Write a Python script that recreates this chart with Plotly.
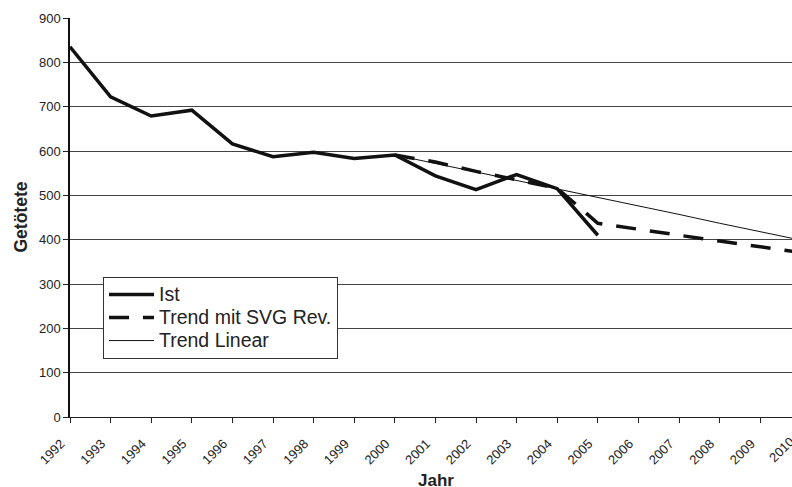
import plotly.graph_objects as go

years_ist = [1992, 1993, 1994, 1995, 1996, 1997, 1998, 1999, 2000, 2001, 2002, 2003, 2004, 2005]
ist = [835, 722, 679, 692, 616, 587, 597, 583, 591, 544, 513, 547, 515, 410]

years_trend = [2000, 2001, 2002, 2003, 2004, 2005, 2006, 2007, 2008, 2009, 2010]
trend_svg = [591, 575, 554, 535, 516, 437, 423, 410, 397, 384, 371]
trend_lin = [591, 572, 553, 534, 514, 495, 476, 457, 437, 418, 399]

series_names = ["Ist", "Trend mit SVG Rev.", "Trend Linear"]

tick_years = list(range(1992, 2011))
tick_labels = [str(y) for y in tick_years]

FONT = "Liberation Sans, Arial, sans-serif"
TXT = "#222222"
LINE = "#111111"


def legend_label(s):
    return "<span style='font-size:19.5px'>" + s + "</span>"


fig = go.Figure()
fig.add_trace(go.Scatter(x=years_ist, y=ist, mode="lines", name=legend_label(series_names[0]),
                         line=dict(color=LINE, width=3.5)))
fig.add_trace(go.Scatter(x=years_trend, y=trend_svg, mode="lines", name=legend_label(series_names[1]),
                         line=dict(color=LINE, width=3.5, dash="20px,14px")))
fig.add_trace(go.Scatter(x=years_trend, y=trend_lin, mode="lines", name=legend_label(series_names[2]),
                         line=dict(color=LINE, width=1)))

W, H = 792, 487
L, R, T, B = 70, 0, 18, 70
x_end = 1992 + (W - L) / 40.6

fig.update_layout(
    width=W, height=H,
    margin=dict(l=L, r=R, t=T, b=B, autoexpand=False),
    paper_bgcolor="white", plot_bgcolor="white",
    font=dict(family=FONT, color=TXT),
    showlegend=True,
    legend=dict(x=(103 - L) / (W - L), y=(417 - 277) / 399, xanchor="left", yanchor="top",
                bgcolor="white", bordercolor="#333333", borderwidth=1,
                font=dict(size=15.4, family=FONT, color=TXT),
                itemwidth=45, tracegroupgap=0),
    xaxis=dict(range=[1992, x_end], tickmode="array", tickvals=tick_years, ticktext=tick_labels,
               tickangle=-45, tickfont=dict(size=13, family=FONT, color=TXT), automargin=False,
               ticklabelstandoff=8, ticklabelshift=-9,
               showgrid=False, zeroline=False, showline=True, linecolor="#222222", linewidth=1,
               ticks="outside", ticklen=5, tickcolor="#222222"),
    yaxis=dict(range=[0, 900], tickvals=[0, 100, 200, 300, 400, 500, 600, 700, 800, 900],
               tickfont=dict(size=13, family=FONT, color=TXT), automargin=False,
               showgrid=True, gridcolor="#444444", gridwidth=1, zeroline=False,
               showline=True, linecolor="#111111", linewidth=1.5,
               ticks="outside", ticklen=5, tickcolor="#222222"),
    annotations=[
        dict(text="<b>Getötete</b>", xref="paper", yref="paper", x=-(L - 20) / (W - L), y=0.5,
             xanchor="center", yanchor="middle", textangle=-90, showarrow=False,
             font=dict(size=17.5, family=FONT, color=TXT)),
        dict(text="<b>Jahr</b>", xref="paper", yref="paper", x=(435.5 - L) / (W - L),
             y=-(480 - 417) / 399, xanchor="center", yanchor="middle", showarrow=False,
             font=dict(size=17, family=FONT, color=TXT)),
        dict(text="2010", xref="paper", yref="paper", x=(800 - L) / (W - L), y=0,
             xanchor="right", yanchor="top", xshift=0, yshift=-14, textangle=-45,
             showarrow=False, font=dict(size=13, family=FONT, color=TXT)),
    ],
)

fig.write_html("out.html", config={"displayModeBar": False},
               post_script="document.body.style.margin='0';document.body.style.overflow='hidden';")
